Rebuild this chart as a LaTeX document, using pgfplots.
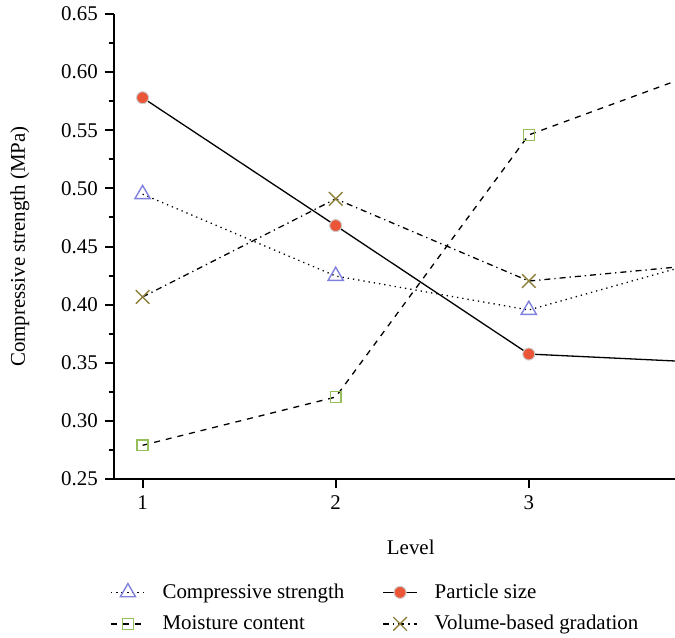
\documentclass[border=0pt]{standalone}
\usepackage{pgfplots}
\pgfplotsset{compat=1.18}
\usepackage{fontspec}
\setmainfont{Liberation Serif}
\usetikzlibrary{calc}
\definecolor{cblue}{RGB}{128,128,222}
\definecolor{cgreen}{RGB}{150,190,90}
\definecolor{colive}{RGB}{140,128,60}
\definecolor{cred}{RGB}{236,86,56}
\begin{document}
\begin{tikzpicture}
\begin{axis}[
  scale only axis,
  width=280.5bp, height=232.5bp,
  xmin=0.852, xmax=3.757,
  ymin=0.25, ymax=0.65,
  axis x line*=bottom, axis y line*=left,
  axis line style={line width=1bp},
  xtick={1,2,3},
  ytick={0.25,0.30,...,0.65},
  minor y tick num=1,
  tick align=outside,
  major tick length=4.6bp, minor tick length=2.7bp,
  every tick/.style={line width=1bp, black},
  yticklabel style={/pgf/number format/.cd, fixed, fixed zerofill, precision=2},
  /pgf/number format/assume math mode=true,
  ticklabel style={font=\fontsize{10.5}{12}\selectfont},
  label style={font=\fontsize{10.5}{12}\selectfont},
  xlabel={Level},
  ylabel={Compressive strength (MPa)},
  x label style={at={(axis description cs:0.529,-0.148)}, anchor=center},
  y label style={at={(axis description cs:-0.168,0.5)}, anchor=center},
  clip marker paths=true,
  legend columns=2,
  legend cell align=left,
  legend style={draw=none, fill=none, at={(axis description cs:-0.018,-0.207)}, anchor=north west,
    font=\fontsize{10.5}{12}\selectfont, row sep=3bp,
    /tikz/every odd column/.append style={column sep=6.5bp},
    /tikz/every even column/.append style={column sep=17bp}},
]
\addplot[black, line width=0.65bp, dotted, mark=triangle, mark size=4.4bp,
  mark options={solid, draw=cblue, line width=0.7bp}]
  coordinates {(1,0.495) (2,0.4246) (3,0.3954) (4,0.442)};
\addlegendentry{Compressive strength}
\addplot[black, line width=0.65bp, mark=*, mark size=3bp,
  mark options={solid, fill=cred, draw=black!20, line width=0.5bp}]
  coordinates {(1,0.578) (2,0.468) (3,0.3575) (4,0.3496)};
\addlegendentry{Particle size}
\addplot[black, line width=0.65bp, dashed, mark=square, mark size=2.7bp,
  mark options={solid, draw=cgreen, line width=0.7bp}]
  coordinates {(1,0.279) (2,0.3205) (3,0.546) (4,0.607)};
\addlegendentry{Moisture content}
\addplot[black, line width=0.65bp, dash dot, mark=x, mark size=4.8bp,
  mark options={solid, draw=colive, line width=0.7bp}]
  coordinates {(1,0.4066) (2,0.491) (3,0.4203) (4,0.436)};
\addlegendentry{Volume-based gradation}
\coordinate (BL) at (rel axis cs:0,0);
\coordinate (TR) at (rel axis cs:1,1);
\end{axis}
\pgfresetboundingbox
\path[use as bounding box] ($(BL)+(-57bp,-79.5bp)$) rectangle ($(TR)+(0bp,7bp)$);
\end{tikzpicture}
\end{document}
